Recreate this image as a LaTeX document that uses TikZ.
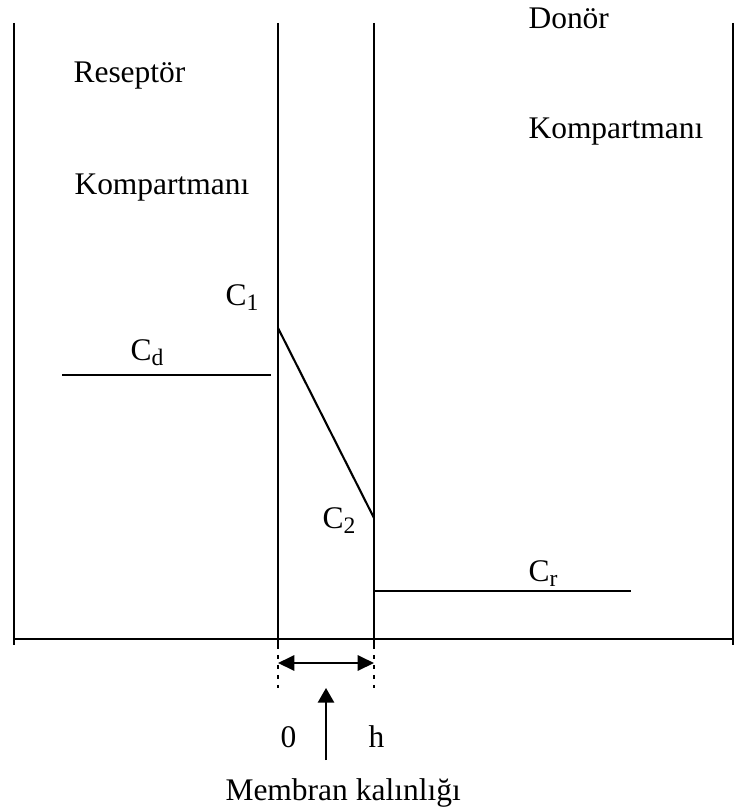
\documentclass[tikz,border=0pt]{standalone}
\usepackage{fontspec}
\setmainfont{Liberation Serif}
\usepackage{tikz}
\usetikzlibrary{positioning, arrows.meta}

\newcommand{\sbs}[1]{\raisebox{-0.35ex}{\fontsize{9}{10}\selectfont #1}}

\begin{document}
\begin{tikzpicture}[
    x=0.0134cm, y=-0.0134cm,
    every node/.style={inner sep=0pt, anchor=base west, font=\fontsize{12}{14}\selectfont},
    wall/.style={draw, line width=0.8pt},
    guide/.style={draw, line width=0.8pt, dash pattern=on 1.5pt off 2.3pt},
    span/.style={draw, line width=0.8pt, {Triangle[length=6.2pt, width=5.8pt]}-{Triangle[length=6.2pt, width=5.8pt]}},
    pointer/.style={draw, line width=0.8pt, -{Triangle[length=5.6pt, width=6.2pt]}}
]
\useasboundingbox (0,0) rectangle (735,811);

% walls and floor
\coordinate (lwtop) at (14,23);   \coordinate (lwbot) at (14,645);
\coordinate (rwtop) at (733,23);  \coordinate (rwbot) at (733,645);
\coordinate (mltop) at (278,23);  \coordinate (mlbot) at (278,645);
\coordinate (mrtop) at (374,23);  \coordinate (mrbot) at (374,645);
\coordinate (mldot) at (278,688); \coordinate (mrdot) at (374,688);
\coordinate (floorl) at (14,639); \coordinate (floorr) at (733,639);
\draw[wall] (lwtop) -- (lwbot);
\draw[wall] (rwtop) -- (rwbot);
\draw[wall] (mltop) -- (mlbot);
\draw[wall] (mrtop) -- (mrbot);
\draw[wall] (floorl) -- (floorr);
\draw[guide] (mlbot) -- (mldot);
\draw[guide] (mrbot) -- (mrdot);

% concentration profile
\coordinate (cdl) at (62,375);  \coordinate (cdr) at (271,375);
\coordinate (c1pt) at (278,328); \coordinate (c2pt) at (374,518);
\coordinate (crl) at (374,591); \coordinate (crr) at (631,591);
\draw[wall] (cdl) -- (cdr);
\draw[wall] (c1pt) -- (c2pt);
\draw[wall] (crl) -- (crr);

% membrane thickness
\coordinate (spanl) at (278,663); \coordinate (spanr) at (374,663);
\coordinate (ptrbot) at (326,760); \coordinate (ptrtop) at (326,688);
\draw[span] (spanl) -- (spanr);
\draw[pointer] (ptrbot) -- (ptrtop);

% labels
\node (resept) at (73,83) {Reseptör};
\node (kompl) at (74,195) {Kompartmanı};
\node (donor) at (528,29) {Donör};
\node (kompr) at (528,139) {Kompartmanı};
\node (cone) at (225,305) {C\sbs{1}};
\node (cd) at (130,360) {C\sbs{d}};
\node (ctwo) at (322,528) {C\sbs{2}};
\node (cr) at (528,581) {C\sbs{r}};
\node (zero) at (280,747) {0};
\node (hh) at (368,747) {h};
\node (membran) at (225,800) {Membran kalınlığı};
\end{tikzpicture}
\end{document}
